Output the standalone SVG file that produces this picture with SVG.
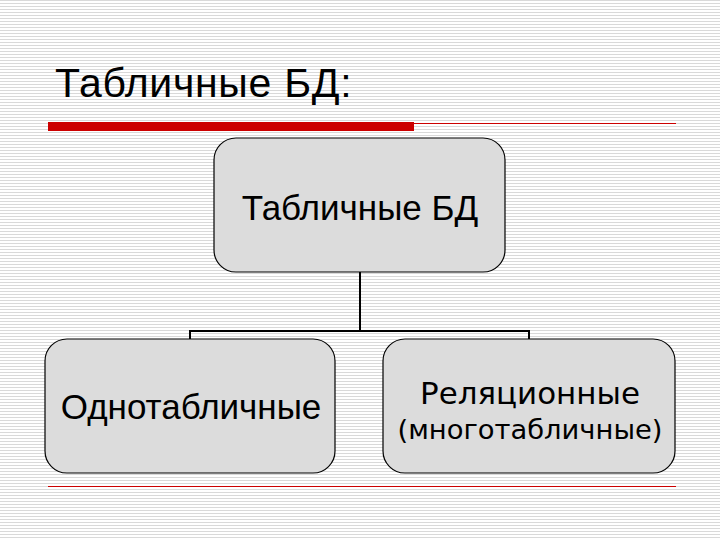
<svg xmlns="http://www.w3.org/2000/svg" width="720" height="540" viewBox="0 0 720 540">
<defs>
<pattern id="stripes" width="720" height="3" patternUnits="userSpaceOnUse">
<rect width="720" height="3" fill="#ffffff"/>
<rect y="0" width="720" height="1" fill="#d9d9d9"/>
</pattern>
<style>
.box{fill:#dcdcdc;stroke:#000;stroke-width:1.2}
.conn{fill:none;stroke:#000;stroke-width:2}
.t{font-family:"Liberation Sans",Arial,sans-serif;fill:#000;text-anchor:middle}
.v{font-family:"DejaVu Sans Condensed","DejaVu Sans",Verdana,sans-serif;font-stretch:condensed;fill:#000;text-anchor:middle}
</style>
</defs>
<rect width="720" height="540" fill="url(#stripes)"/>
<text x="55" y="97" font-family="Liberation Sans, Arial, sans-serif" font-size="41" letter-spacing="0.7" fill="#000">Табличные БД:</text>
<rect x="48" y="122" width="366" height="9" fill="#cc0000"/>
<line x1="414" y1="123.5" x2="676" y2="123.5" stroke="#cc0000" stroke-width="1"/>
<line x1="48" y1="486.5" x2="676" y2="486.5" stroke="#cc0000" stroke-width="1"/>
<g id="connectors">
<path class="conn" d="M360 272 V331 M190 341 V331 H529 V341"/>
</g>
<g id="root">
<rect class="box" x="214" y="138" width="291" height="134" rx="22"/>
<text class="t" x="360" y="220" font-size="35">Табличные БД</text>
</g>
<g id="single">
<rect class="box" x="45" y="339" width="290" height="134" rx="22"/>
<text class="t" x="191" y="419" font-size="35">Однотабличные</text>
</g>
<g id="relational">
<rect class="box" x="383" y="339" width="292" height="134" rx="22"/>
<text class="v" x="530" y="404" font-size="31" textLength="220" lengthAdjust="spacingAndGlyphs">Реляционные</text>
<text class="v" x="530" y="439" font-size="27" textLength="265" lengthAdjust="spacingAndGlyphs">(многотабличные)</text>
</g>
</svg>
